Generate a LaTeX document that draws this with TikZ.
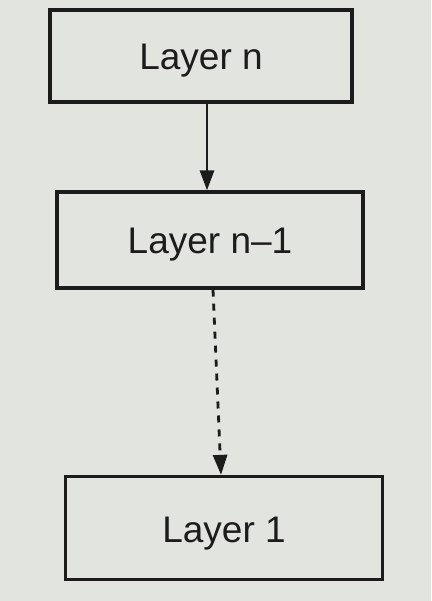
\documentclass[tikz,border=0pt]{standalone}
\usepackage{fontspec}
\setmainfont{Liberation Sans}
\usetikzlibrary{arrows.meta}
\definecolor{paper}{RGB}{226,228,224}
\definecolor{ink}{RGB}{28,28,28}
\begin{document}
\begin{tikzpicture}[x=1pt,y=-1pt,
  layerbox/.style={draw=ink,line width=3.2pt,fill=paper,inner sep=0pt,
    font=\fontsize{37}{40}\selectfont,text=ink,text height=30pt,text depth=2pt},
  conn/.style={draw=ink,line width=2.8pt,-{Triangle[length=20pt,width=14pt]}}]
\fill[paper] (0,0) rectangle (431,601);
\useasboundingbox (0,0) rectangle (431,601);
\node[layerbox,minimum width=302pt,minimum height=92pt] (b1) at (201,56) {Layer n};
\node[layerbox,minimum width=306pt,minimum height=96pt] (b2) at (210,240) {Layer n–1};
\node[layerbox,minimum width=317pt,minimum height=103pt] (b3) at (224,528) {Layer 1};
\draw[conn] ([xshift=6pt]b1.south) -- ([xshift=-3pt]b2.north);
\draw[conn,dash pattern=on 7pt off 7pt] ([xshift=3pt]b2.south) -- ([xshift=-3pt]b3.north);
\end{tikzpicture}
\end{document}
